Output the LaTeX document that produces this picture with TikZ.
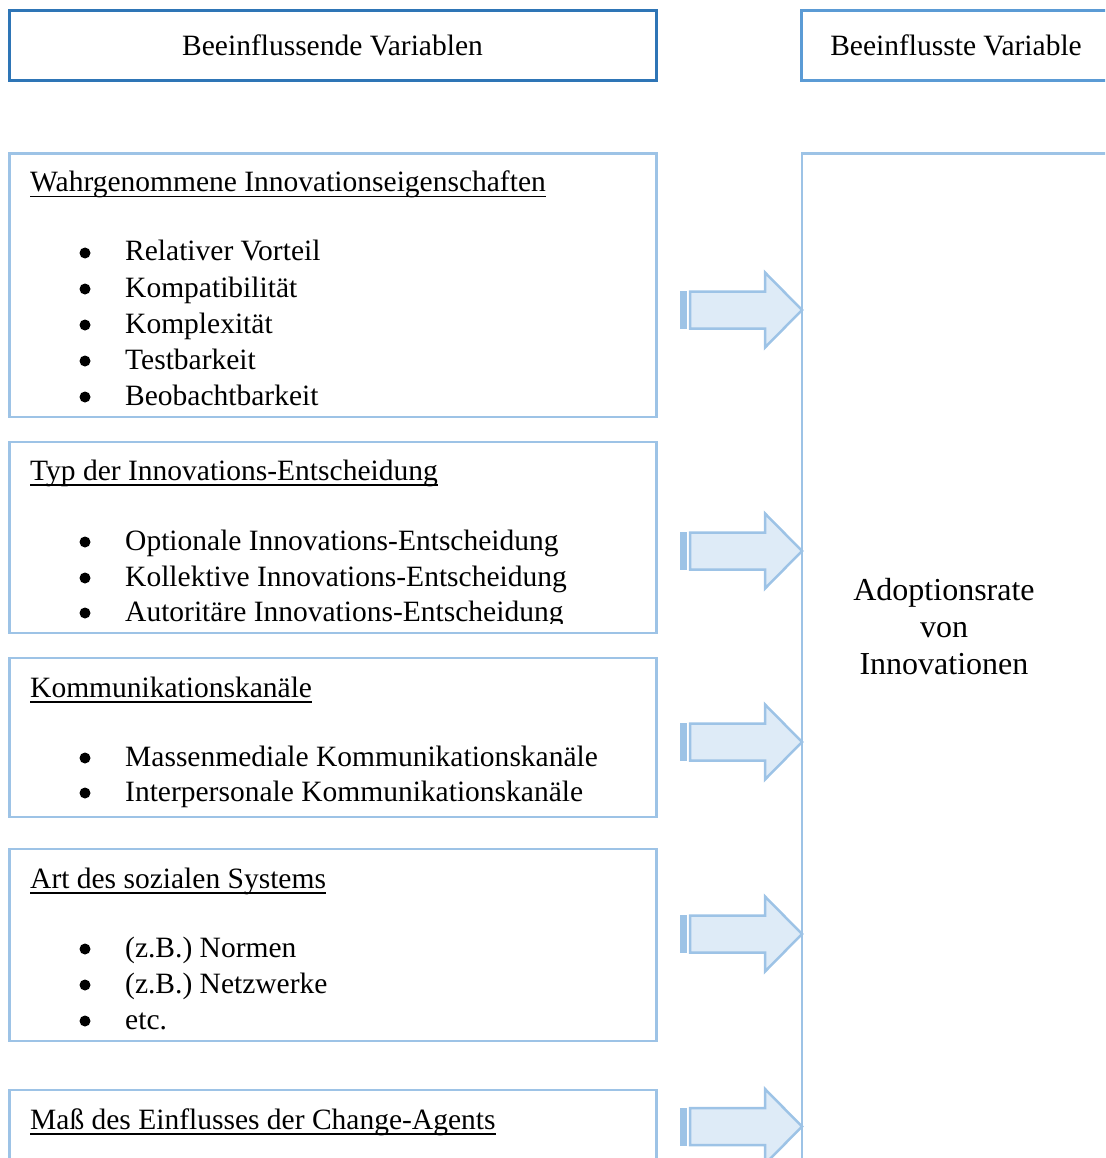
\documentclass[tikz,border=0pt]{standalone}
\usepackage{fontspec}
\setmainfont{Liberation Serif}
\definecolor{darkblue}{HTML}{2E75B6}
\definecolor{midblue}{HTML}{5B9BD5}
\definecolor{lightblue}{HTML}{9DC3E6}
\definecolor{paleblue}{HTML}{DEEBF7}
\newcommand\myul[1]{\setbox0=\hbox{#1}\rlap{\rule[-5.5pt]{\wd0}{1.8pt}}\box0}
\tikzset{
  lightbox/.style={draw=lightblue, line width=2.5pt, inner sep=0pt},
  headbox/.style={line width=3pt, inner sep=0pt},
  txt/.style={anchor=base west, inner sep=0pt, font=\fontsize{29.5}{36}\selectfont},
  ctxt/.style={anchor=base, inner sep=0pt, font=\fontsize{29.5}{36}\selectfont},
  bigtxt/.style={anchor=base, inner sep=0pt, font=\fontsize{32}{37}\selectfont},
  bul/.style={circle, fill=black, inner sep=0pt, minimum size=11pt},
  arrbody/.style={draw=lightblue, fill=paleblue, line width=2.5pt, line join=miter},
  arrbar/.style={draw=lightblue, fill=lightblue, line width=1pt}
}
\newcommand\bulitem[3]{% name, baseline y, text
  \node[bul] (#1b) at (85,#2-8) {};
  \node[txt] (#1) at (125,#2) {#3};}
\newcommand\blockarrow[2]{% name, center y
  \coordinate (#1) at (680,#2);
  \draw[arrbar] (#1) ++(0,-18.5) rectangle ++(6.5,37);
  \draw[arrbody] (#1) ++(10,-18.5) -- ++(75,0) -- ++(0,-19) -- (802,#2) -- (765,#2+37.5) -- (765,#2+18.5) -- (690,#2+18.5) -- cycle;}
\begin{document}
\begin{tikzpicture}[x=1pt,y=-1pt]
\useasboundingbox (0,0) rectangle (1105,1158);
\clip (0,0) rectangle (1105,1158);
% headers
\node[headbox, draw=darkblue, minimum width=647pt, minimum height=70pt] (hl) at (333,45.5) {};
\node[headbox, draw=midblue, minimum width=318.5pt, minimum height=70pt] (hr) at (960.75,45.5) {};
\node[ctxt] (hlt) at (332.5,56) {Beeinflussende Variablen};
\node[ctxt] (hrt) at (956,56) {Beeinflusste Variable};
% boxes
\node[lightbox, minimum width=647pt, minimum height=263.5pt] (b1) at (333,285.25) {};
\node[lightbox, minimum width=647pt, minimum height=191pt] (b2) at (333,537.5) {};
\node[lightbox, minimum width=647pt, minimum height=159pt] (b3) at (333,737.5) {};
\node[lightbox, minimum width=647pt, minimum height=192pt] (b4) at (333,945) {};
\node[lightbox, minimum width=647pt, minimum height=90pt] (b5) at (333,1135) {};
\node[lightbox, minimum width=318pt, minimum height=1026.5pt] (rb) at (961,666.75) {};
% box 1
\node[txt] (t1) at (30,192) {\myul{Wahrgenommene Innovationseigenschaften}};
\bulitem{i11}{261}{Relativer Vorteil}
\bulitem{i12}{297}{Kompatibilität}
\bulitem{i13}{333}{Komplexität}
\bulitem{i14}{369}{Testbarkeit}
\bulitem{i15}{405}{Beobachtbarkeit}
% box 2
\node[txt] (t2) at (30,480) {\myul{Typ der Innovations-Entscheidung}};
\bulitem{i21}{550}{Optionale Innovations-Entscheidung}
\bulitem{i22}{586}{Kollektive Innovations-Entscheidung}
\begin{scope}
\clip (0,442) rectangle (656,623);
\bulitem{i23}{621}{Autoritäre Innovations-Entscheidung}
\end{scope}
% box 3
\node[txt] (t3) at (30,697) {\myul{Kommunikationskanäle}};
\bulitem{i31}{766}{Massenmediale Kommunikationskanäle}
\bulitem{i32}{801}{Interpersonale Kommunikationskanäle}
% box 4
\node[txt] (t4) at (30,888) {\myul{Art des sozialen Systems}};
\bulitem{i41}{957}{(z.B.) Normen}
\bulitem{i42}{993}{(z.B.) Netzwerke}
\bulitem{i43}{1029}{etc.}
% box 5
\node[txt] (t5) at (30,1129) {\myul{Maß des Einflusses der Change-Agents}};
% right text
\node[bigtxt] (r1) at (944,600) {Adoptionsrate};
\node[bigtxt] (r2) at (944,637) {von};
\node[bigtxt] (r3) at (944,674) {Innovationen};
% arrows
\blockarrow{a1}{310}
\blockarrow{a2}{551}
\blockarrow{a3}{742}
\blockarrow{a4}{934}
\blockarrow{a5}{1126.5}
\end{tikzpicture}
\end{document}
